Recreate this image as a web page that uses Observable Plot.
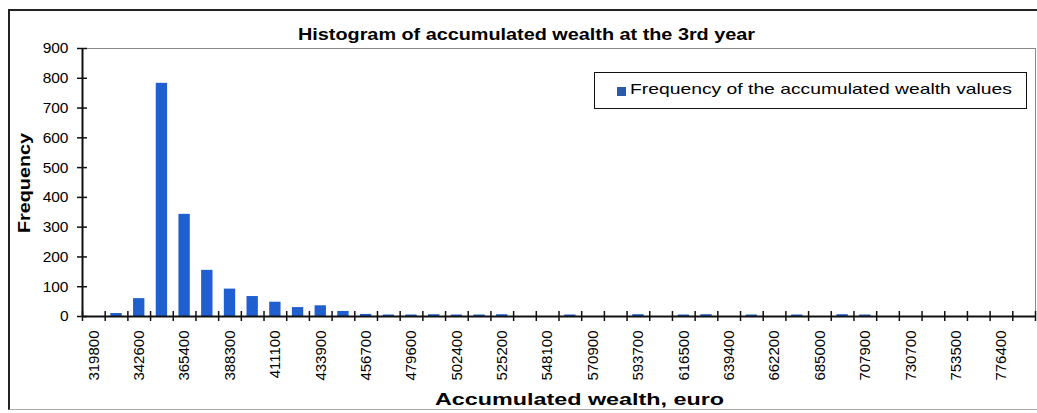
<!DOCTYPE html>
<html>
<head>
<meta charset="utf-8">
<script src="https://cdn.jsdelivr.net/npm/d3@7"></script>
<script src="https://cdn.jsdelivr.net/npm/@observablehq/plot@0.6"></script>
<style>
  html, body { margin: 0; padding: 0; background: #fff; }
  #chart { position: relative; width: 1037px; height: 413px; overflow: hidden; font-family: "Liberation Sans", Arial, sans-serif; }
  #chart svg { position: absolute; left: 0; top: 0; }
  .border { position: absolute; left: 8px; top: 9px; width: 1040px; height: 401px; border-left: 2px solid #222; border-top: 2px solid #222; border-bottom: 1px solid #aaa; box-sizing: border-box; }
  .fit { position: absolute; white-space: nowrap; color: #000; line-height: 1; transform-origin: 0 0; }
  .title { font-weight: bold; font-size: 16px; }
  .xtitle { font-weight: bold; font-size: 16px; }
  .ytitle { font-weight: bold; font-size: 16px; }
  .legend { position: absolute; left: 594px; top: 72px; width: 433px; height: 37px; border: 1px solid #111; box-sizing: border-box; background: #fff; }
  .legend .sw { position: absolute; left: 22px; top: 14px; width: 9px; height: 9px; background: #2b5aa8; }
  .lt { font-size: 15px; }
</style>
</head>
<body>
<div id="chart">
  <div class="border"></div>
</div>
<script>
// Category bins (every other one is labelled on the axis)
const bins = [
  "319800","331200","342600","354000","365400","376900","388300","399700","411100","422500",
  "433900","445300","456700","468200","479600","491000","502400","513800","525200","536700",
  "548100","559500","570900","582300","593700","605100","616500","628000","639400","650800",
  "662200","673600","685000","696500","707900","719300","730700","742100","753500","765000",
  "776400","787800"
];
// Frequency of the accumulated wealth values
const frequency = [
  0, 10, 60, 783, 343, 155, 92, 67, 48, 30,
  36, 17, 7, 5, 5, 6, 5, 5, 6, 0,
  0, 5, 0, 0, 6, 0, 5, 6, 0, 5,
  0, 5, 0, 6, 5, 0, 0, 0, 0, 0,
  0, 0
];
const yTicks = [0, 100, 200, 300, 400, 500, 600, 700, 800, 900];
const titleText = "Histogram of accumulated wealth at the 3rd year";
const xTitle = "Accumulated wealth, euro";
const yTitle = "Frequency";
const legendText = "Frequency of the accumulated wealth values";

const data = bins.map((b, i) => ({i, bin: b, freq: frequency[i]}));
const boundaries = d3.range(0, bins.length + 1);
const labelPos = bins.map((b, i) => i).filter(i => i % 2 === 0).map(i => i + 0.5);

const barColor = "#1f5fd0";

const plot = Plot.plot({
  width: 1037,
  height: 413,
  marginLeft: 82,
  marginRight: 2,
  marginTop: 48,
  marginBottom: 97,
  style: {fontFamily: "Liberation Sans, Arial, sans-serif", fontSize: "15px", background: "transparent", color: "#000"},
  x: {type: "linear", domain: [0, bins.length], axis: null},
  y: {domain: [0, 900], axis: null},
  marks: [
    Plot.frame({stroke: "#888", strokeWidth: 1}),
    Plot.rectY(data, {x1: d => d.i + 0.25, x2: d => d.i + 0.75, y: "freq", fill: barColor}),
    Plot.ruleY([0], {stroke: "#111", strokeWidth: 2}),
    Plot.ruleX([0], {stroke: "#111", strokeWidth: 2}),
    // cross tick marks at category boundaries
    Plot.axisX(boundaries, {tickSize: 10, dy: -5, tickFormat: () => "", label: null, stroke: "#111", strokeWidth: 1.5}),
    // rotated bin labels
    Plot.axisX(labelPos, {tickSize: 0, tickPadding: 14, tickRotate: -90, tickFormat: v => bins[v - 0.5], label: null, fontSize: 15}),
    Plot.axisY(yTicks, {tickSize: 10, dx: 5, tickFormat: () => "", label: null, stroke: "#111", strokeWidth: 1.5}),
    Plot.axisY(yTicks, {tickSize: 0, tickPadding: 14, label: null, fontSize: 15.5})
  ]
});

const chart = document.getElementById("chart");
chart.appendChild(plot);

// place a text element stretched to a target box (the reference text is horizontally wide)
function fitText(parent, cls, text, left, top, width, rotate) {
  const d = document.createElement("div");
  d.className = "fit " + cls;
  d.textContent = text;
  parent.appendChild(d);
  const w = d.getBoundingClientRect().width;
  const h = d.getBoundingClientRect().height;
  const s = width / w;
  if (rotate) {
    d.style.left = (left - w / 2) + "px";
    d.style.top = (top - h / 2) + "px";
    d.style.transformOrigin = "50% 50%";
    d.style.transform = `rotate(-90deg) scaleX(${s})`;
  } else {
    d.style.left = left + "px";
    d.style.top = top + "px";
    d.style.transform = `scaleX(${s})`;
  }
  return d;
}
fitText(chart, "title", titleText, 298, 27, 457);
fitText(chart, "xtitle", xTitle, 435, 392, 289);
fitText(chart, "ytitle", yTitle, 25, 183, 100, true);
const lg = document.createElement("div"); lg.className = "legend"; chart.appendChild(lg);
const sw = document.createElement("div"); sw.className = "sw"; lg.appendChild(sw);
fitText(lg, "lt", legendText, 35, 8, 382);
</script>
</body>
</html>
